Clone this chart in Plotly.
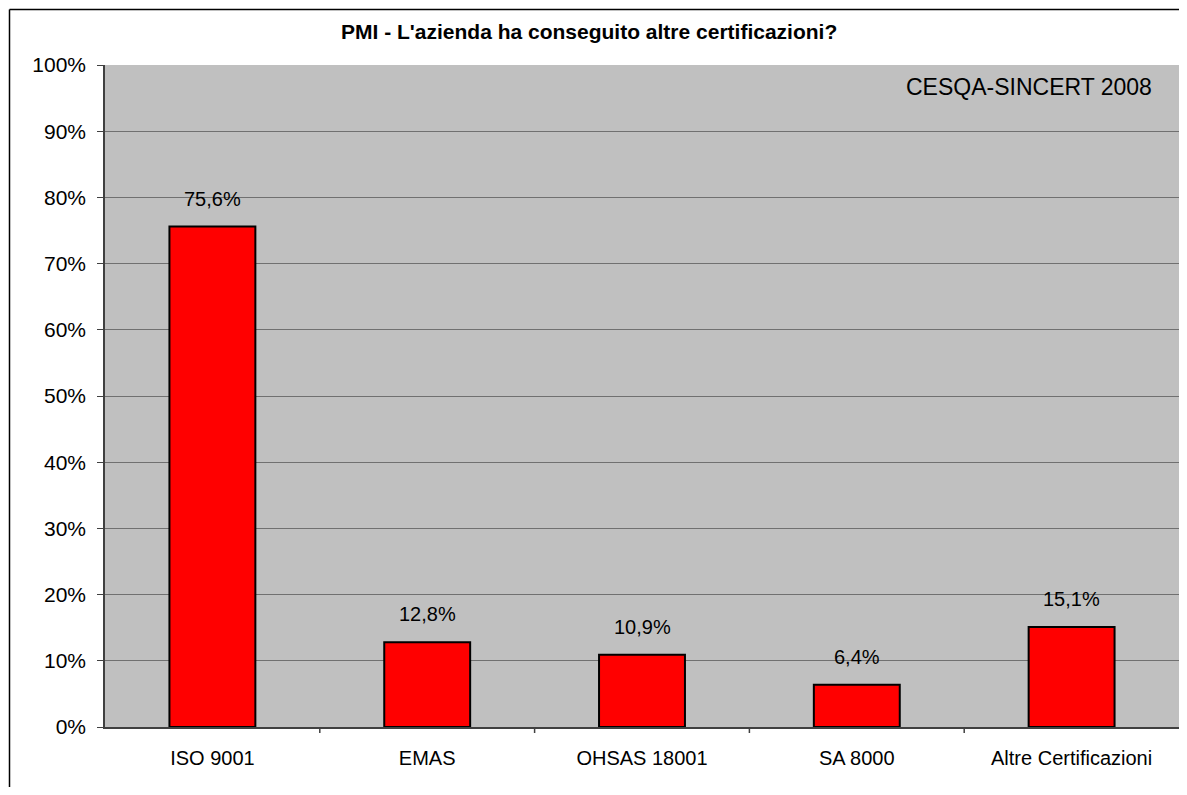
import plotly.graph_objects as go

categories = ["ISO 9001", "EMAS", "OHSAS 18001", "SA 8000", "Altre Certificazioni"]
values = [75.6, 12.8, 10.9, 6.4, 15.1]
labels = ["75,6%", "12,8%", "10,9%", "6,4%", "15,1%"]
y_ticks = list(range(0, 101, 10))
y_ticktext = [f"{v}%" for v in y_ticks]

OFF = 8  # page body margin
W, H = 1187 - 2 * OFF, 795 - 2 * OFF
L, T, R, B = 105 - OFF, 65 - OFF, 0, H - (727 - OFF)
pw, ph = W - L - R, H - T - B

def px(x):
    # reference screen pixel -> paper coordinate
    return (x - OFF - L) / pw

def py(y):
    return (H - B - (y - OFF)) / ph

FONT = "Arial, Liberation Sans, sans-serif"

fig = go.Figure()
fig.add_trace(go.Bar(
    x=categories, y=values,
    marker=dict(color="#FF0000", line=dict(color="#000000", width=2)),
    showlegend=False, hoverinfo="skip",
))

for c, v, t in zip(categories, values, labels):
    fig.add_annotation(x=c, y=v, text=t, showarrow=False, yanchor="bottom",
                       yshift=15, font=dict(family=FONT, size=20, color="#000"))

fig.add_annotation(xref="paper", yref="paper", x=px(1154), y=py(87), xanchor="right",
                   yanchor="middle", text="CESQA-SINCERT 2008", showarrow=False,
                   font=dict(family=FONT, size=23, color="#000"))

fig.add_annotation(xref="paper", yref="paper", x=px(589), y=py(32), xanchor="center",
                   yanchor="middle", text="<b>PMI - L'azienda ha conseguito altre certificazioni?</b>",
                   showarrow=False,
                   font=dict(family=FONT, size=21, color="#000"))

# outer chart border (only left and top edges are visible in the reference)
fig.add_shape(type="line", xref="paper", yref="paper",
              x0=px(9.5), x1=px(9.5), y0=py(800), y1=py(9.5),
              line=dict(color="#000000", width=1.5), layer="above")
fig.add_shape(type="line", xref="paper", yref="paper",
              x0=px(9.5), x1=px(1200), y0=py(9.5), y1=py(9.5),
              line=dict(color="#000000", width=1.5), layer="above")

fig.update_layout(
    width=W, height=H,
    margin=dict(l=L, r=R, t=T, b=B),
    paper_bgcolor="#FFFFFF", plot_bgcolor="#C0C0C0",
    bargap=0.6,
    font=dict(family=FONT, size=20, color="#000"),
    xaxis=dict(showgrid=False, showline=True, linecolor="#404040", linewidth=2,
               ticks="", tickfont=dict(size=20), ticklabelstandoff=12,
               range=[-0.5, 4.5]),
    yaxis=dict(range=[0, 100], tickvals=y_ticks, ticktext=y_ticktext,
               showgrid=True, gridcolor="#707070", gridwidth=1,
               showline=True, linecolor="#404040", linewidth=1.5,
               ticks="outside", ticklen=6, tickcolor="#404040", zeroline=False,
               tickfont=dict(size=21), ticklabelstandoff=7),
)

# category separator ticks
for k in range(1, 5):
    fig.add_shape(type="line", xref="x", yref="paper", x0=k - 0.5, x1=k - 0.5,
                  y0=0, y1=py(733), line=dict(color="#404040", width=1.5))

fig.write_html("out.html")
